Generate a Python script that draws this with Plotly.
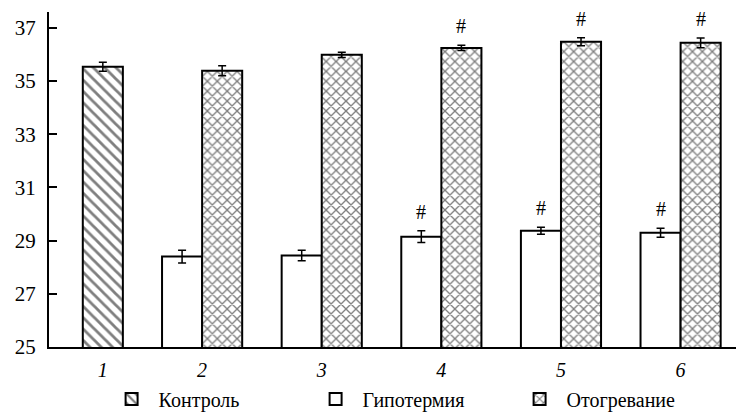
import plotly.graph_objects as go

# ---- data ----
group_labels = ["1", "2", "3", "4", "5", "6"]
group_pos = [1.17, 2, 3, 4, 5, 6]          # x position of each group label
control_val = [35.54]
control_err = [0.17]
hypo_val = [28.40, 28.44, 29.15, 29.37, 29.30]
hypo_err = [0.24, 0.20, 0.22, 0.13, 0.17]
warm_val = [35.39, 35.99, 36.25, 36.48, 36.44]
warm_err = [0.19, 0.10, 0.10, 0.15, 0.18]
hypo_sig = [False, False, True, True, True]
warm_sig = [False, False, True, True, True]
y_ticks = [25, 27, 29, 31, 33, 35, 37]

W = 0.335
FONT = "Liberation Serif"

fig = go.Figure()
fig.add_trace(go.Bar(
    name="Контроль", x=group_pos[:1], y=control_val, width=W,
    marker=dict(color="white", line=dict(color="black", width=2),
                pattern=dict(shape="\\", fgcolor="black", bgcolor="white", size=8, solidity=0.35)),
    error_y=dict(type="data", array=control_err, color="black", thickness=1.5, width=4),
))
fig.add_trace(go.Bar(
    name="Гипотермия", x=group_pos[1:], y=hypo_val, width=W, offset=-W,
    marker=dict(color="white", line=dict(color="black", width=2)),
    error_y=dict(type="data", array=hypo_err, color="black", thickness=1.5, width=4),
))
fig.add_trace(go.Bar(
    name="Отогревание", x=group_pos[1:], y=warm_val, width=W, offset=0,
    marker=dict(color="white", line=dict(color="black", width=2),
                pattern=dict(shape="x", fgcolor="black", bgcolor="white", size=7, solidity=0.35)),
    error_y=dict(type="data", array=warm_err, color="black", thickness=1.5, width=4),
))

annotations = []
for p, v, e, s in zip(group_pos[1:], hypo_val, hypo_err, hypo_sig):
    if s:
        annotations.append(dict(x=p - W / 2, y=v + e, text="#", showarrow=False,
                                yanchor="bottom", yshift=6, font=dict(family=FONT, size=20, color="black")))
for p, v, e, s in zip(group_pos[1:], warm_val, warm_err, warm_sig):
    if s:
        annotations.append(dict(x=p + W / 2, y=v + e, text="#", showarrow=False,
                                yanchor="bottom", yshift=6, font=dict(family=FONT, size=20, color="black")))

# page body has an 8px margin: figure is sized/offset to compensate
fig.update_layout(
    width=736, height=406,
    margin=dict(l=41, r=0, t=4, b=67, autoexpand=False),
    paper_bgcolor="white", plot_bgcolor="white",
    barmode="overlay",
    font=dict(family=FONT, size=20, color="black"),
    annotations=annotations,
    legend=dict(orientation="h", x=0.08, y=-0.155, xanchor="left", yanchor="middle",
                font=dict(family=FONT, size=20, color="black"), itemwidth=44,
                traceorder="normal", entrywidth=145, entrywidthmode="pixels"),
    xaxis=dict(range=[0.72, 6.53], tickvals=group_pos,
               ticktext=["<i>%s</i>" % t for t in group_labels],
               showline=True, linecolor="black", linewidth=2, ticks="",
               showgrid=False, zeroline=False, ticklabelstandoff=4, automargin=False,
               tickfont=dict(family=FONT, size=20)),
    yaxis=dict(range=[25, 37.6], tickvals=y_ticks, ticktext=[str(t) for t in y_ticks],
               showline=True, linecolor="black", linewidth=2, ticks="inside", ticklen=8,
               tickwidth=1.5, tickcolor="black", showgrid=False, zeroline=False,
               ticklabelstandoff=7, automargin=False, tickfont=dict(family=FONT, size=21)),
)
fig.write_html("out.html")
